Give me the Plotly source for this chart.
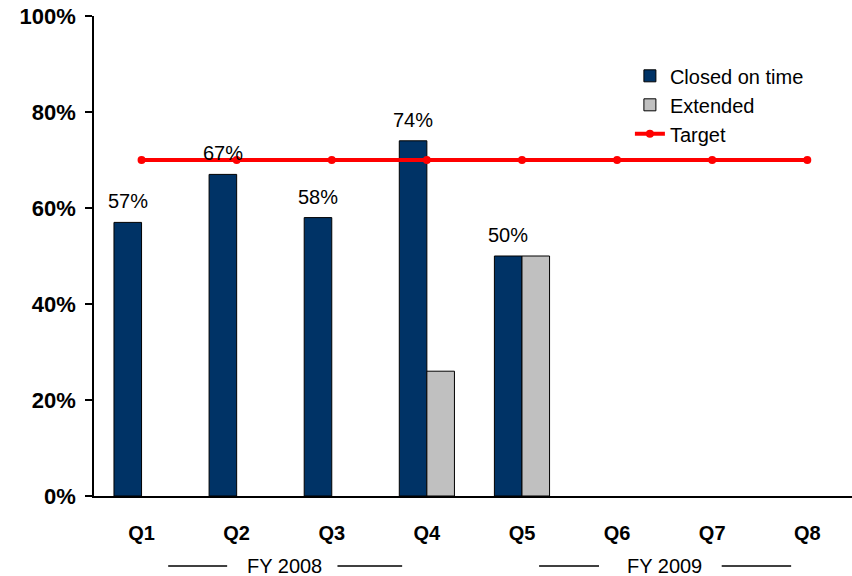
import plotly.graph_objects as go

quarters = ["Q1", "Q2", "Q3", "Q4", "Q5", "Q6", "Q7", "Q8"]
closed_on_time = [57, 67, 58, 74, 50, None, None, None]
extended = [None, None, None, 26, 50, None, None, None]
target = [70, 70, 70, 70, 70, 70, 70, 70]
y_ticks = [0, 20, 40, 60, 80, 100]
y_tick_labels = ["0%", "20%", "40%", "60%", "80%", "100%"]
fiscal_years = ["FY 2008", "FY 2009"]
fiscal_centers = [1.5, 5.5]
fiscal_lines = [[(0.28, 0.9), (2.06, 2.74)], [(4.18, 4.81), (6.1, 6.83)]]

FONT = "Liberation Sans, Arial, sans-serif"
NAVY = "#003366"
GREY = "#C0C0C0"
RED = "#FF0000"

fig = go.Figure()
fig.add_trace(go.Bar(
    x=quarters, y=closed_on_time, name="Closed on time",
    marker=dict(color=NAVY, line=dict(color="#000000", width=1)),
))
fig.add_trace(go.Bar(
    x=quarters, y=extended, name="Extended",
    marker=dict(color=GREY, line=dict(color="#000000", width=1)),
))
fig.add_trace(go.Scatter(
    x=quarters, y=target, name="Target", mode="lines+markers",
    line=dict(color=RED, width=4), marker=dict(color=RED, size=8),
))

annotations = []
for q, v in zip(quarters, closed_on_time):
    if v is None:
        continue
    annotations.append(dict(
        x=q, y=v, xref="x", yref="y", text=f"{v}%", showarrow=False,
        yanchor="bottom", yshift=8, xshift=-13.75,
        font=dict(family=FONT, size=20, color="#000000"),
    ))

shapes = []
for fy, cx, segs in zip(fiscal_years, fiscal_centers, fiscal_lines):
    annotations.append(dict(
        x=cx, y=-0.146, xref="x", yref="paper", text=fy, showarrow=False,
        yanchor="middle", xanchor="center",
        font=dict(family=FONT, size=20, color="#000000"),
    ))
    for x0, x1 in segs:
        shapes.append(dict(type="line", xref="x", yref="paper",
                           x0=x0, x1=x1, y0=-0.146, y1=-0.146,
                           line=dict(color="#000000", width=1.5)))

fig.update_layout(
    width=852, height=576,
    margin=dict(l=94, r=0, t=16, b=80),
    paper_bgcolor="white", plot_bgcolor="white",
    barmode="group", bargap=0.42, bargroupgap=0,
    font=dict(family=FONT, color="#000000"),
    showlegend=True,
    legend=dict(
        x=0.707, y=0.916, xanchor="left", yanchor="top",
        font=dict(family=FONT, size=20, color="#000000"),
        bgcolor="rgba(0,0,0,0)", traceorder="normal",
    ),
    annotations=annotations,
    shapes=shapes,
)
fig.update_xaxes(
    range=[-0.5, 7.47], showline=True, linecolor="#000000", linewidth=1.5,
    ticks="", showgrid=False, zeroline=False,
    tickfont=dict(family=FONT, size=20, color="#000000", weight="bold"),
    ticklabelstandoff=18,
)
fig.update_yaxes(
    range=[0, 100], tickvals=y_ticks, ticktext=y_tick_labels,
    showline=True, linecolor="#000000", linewidth=1.5,
    ticks="outside", ticklen=7, tickcolor="#000000", tickwidth=1.5,
    showgrid=False, zeroline=False,
    tickfont=dict(family=FONT, size=22, color="#000000", weight="bold"),
    ticklabelstandoff=5,
)

fig.write_html("out.html")
